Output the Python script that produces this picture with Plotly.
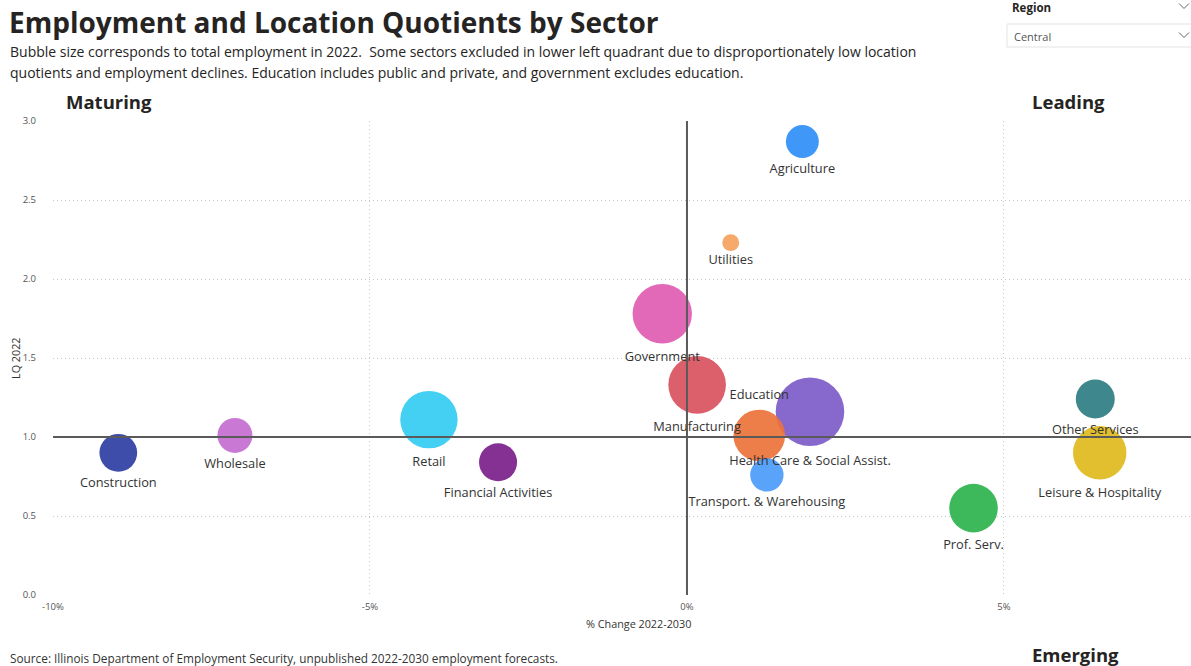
import plotly.graph_objects as go

# ---- data ----
sectors = ["Construction", "Wholesale", "Retail", "Financial Activities", "Government",
           "Manufacturing", "Utilities", "Agriculture", "Health Care & Social Assist.",
           "Education", "Transport. & Warehousing", "Prof. Serv.", "Other Services",
           "Leisure & Hospitality"]
pct_change = [-8.97, -7.13, -4.07, -2.98, -0.39, 0.16, 0.69, 1.82, 1.94, 1.14, 1.26, 4.52, 6.44, 6.51]
lq_2022 = [0.90, 1.01, 1.11, 0.84, 1.78, 1.33, 2.23, 2.87, 1.16, 1.01, 0.76, 0.55, 1.24, 0.90]
employment = [21400, 18400, 49400, 21700, 52900, 49800, 4300, 16300, 70600, 39900, 16700, 35400, 22800, 42800]
colors = ["#2E3DA3", "#C46ECF", "#33CCF2", "#7A1F8A", "#E05BB2", "#D9535F", "#F5A25E",
          "#2F8FF7", "#7D5CC9", "#EC7239", "#4C9BFA", "#2DB24C", "#2E7D82", "#E0BA1C"]
label_pos = ["bottom center"] * 9 + ["top center"] + ["bottom center"] * 4

x_ticks = [-10, -5, 0, 5]
x_tick_labels = ["-10%", "-5%", "0%", "5%"]
y_ticks = [0.0, 0.5, 1.0, 1.5, 2.0, 2.5, 3.0]
y_tick_labels = ["0.0", "0.5", "1.0", "1.5", "2.0", "2.5", "3.0"]

FONT = "Open Sans"
W, H = 1191, 666
L, R, T, B = 53, 0, 121, 71
PW, PH = W - L - R, H - T - B


def px(xpx):
    return (xpx - L) / PW


def py(ypx):
    return (H - B - ypx) / PH


max_d = 68.6
sizeref = 2 * max(employment) / max_d ** 2

fig = go.Figure()
fig.add_trace(go.Scatter(
    x=pct_change, y=lq_2022, mode="markers+text",
    text=sectors, textposition=label_pos,
    textfont=dict(family=FONT, size=12.8, color="#333"),
    marker=dict(size=employment, sizemode="area", sizeref=sizeref,
                color=colors, opacity=0.92, line=dict(width=0)),
    hoverinfo="text", showlegend=False, cliponaxis=False,
))

fig.update_layout(
    width=W, height=H, autosize=False,
    margin=dict(l=L, r=R, t=T, b=B, pad=0),
    paper_bgcolor="white", plot_bgcolor="white",
    font=dict(family=FONT, color="#333"),
    xaxis=dict(range=[-10, 7.95], tickvals=x_ticks, ticktext=x_tick_labels,
               showgrid=True, gridcolor="#c8c8c8", griddash="1px,3px", gridwidth=1,
               zeroline=False, showline=False, ticks="", ticklabelstandoff=4,
               tickfont=dict(family=FONT, size=9.5, color="#555"), fixedrange=True),
    yaxis=dict(range=[0, 3], tickvals=y_ticks, ticktext=y_tick_labels,
               showgrid=True, gridcolor="#c8c8c8", griddash="1px,3px", gridwidth=1,
               zeroline=False, showline=False, ticks="", ticklabelstandoff=16,
               tickfont=dict(family=FONT, size=9.5, color="#555"), fixedrange=True),
)

# quadrant lines
fig.add_shape(type="line", xref="x", yref="paper", x0=0, x1=0, y0=0, y1=1,
              line=dict(color="#5a5a5a", width=2), layer="above")
fig.add_shape(type="line", xref="paper", yref="y", x0=0, x1=1, y0=1, y1=1,
              line=dict(color="#5a5a5a", width=2), layer="above")

ann = []
ann.append(dict(text="<b>Employment and Location Quotients by Sector</b>", x=px(7), y=py(22),
                xanchor="left", yanchor="middle", font=dict(size=28, color="#252423")))
ann.append(dict(text="Bubble size corresponds to total employment in 2022.  Some sectors excluded in lower left quadrant due to disproportionately low location",
                x=px(8), y=py(52), xanchor="left", yanchor="middle", align="left",
                font=dict(size=14, color="#252423")))
ann.append(dict(text="quotients and employment declines. Education includes public and private, and government excludes education.",
                x=px(8), y=py(73), xanchor="left", yanchor="middle", align="left",
                font=dict(size=14, color="#252423")))
ann.append(dict(text="<b>Maturing</b>", x=px(64), y=py(101), xanchor="left", yanchor="middle",
                font=dict(size=18.5, color="#252423")))
ann.append(dict(text="<b>Leading</b>", x=px(1030), y=py(101), xanchor="left", yanchor="middle",
                font=dict(size=18.5, color="#252423")))
ann.append(dict(text="<b>Emerging</b>", x=px(1030), y=py(654), xanchor="left", yanchor="middle",
                font=dict(size=18.5, color="#252423")))
ann.append(dict(text="% Change 2022-2030", x=px(638), y=py(623), xanchor="center", yanchor="middle",
                font=dict(size=10.8, color="#333")))
ann.append(dict(text="LQ 2022", x=px(15), y=py(358), xanchor="center", yanchor="middle",
                textangle=-90, font=dict(size=10.8, color="#333")))
ann.append(dict(text="Source: Illinois Department of Employment Security, unpublished 2022-2030 employment forecasts.",
                x=px(8), y=py(658), xanchor="left", yanchor="middle",
                font=dict(size=11.8, color="#333")))
ann.append(dict(text="<b>Region</b>", x=px(1010), y=py(8), xanchor="left", yanchor="middle",
                font=dict(size=11.5, color="#252423")))
ann.append(dict(text="Central", x=px(1012), y=py(36), xanchor="left", yanchor="middle",
                font=dict(size=11, color="#555")))
for a in ann:
    a.update(xref="paper", yref="paper", showarrow=False)
    fig.add_annotation(**a)

# slicer box + chevrons
fig.add_shape(type="rect", xref="paper", yref="paper", x0=px(1007), x1=px(1192), y0=py(24), y1=py(47),
              line=dict(color="#e3e3e3", width=1), fillcolor="rgba(0,0,0,0)", layer="above")
for cy in (6, 35):
    cx = 1184
    fig.add_shape(type="path", xref="paper", yref="paper",
                  path=f"M {px(cx-5)} {py(cy-2.5)} L {px(cx)} {py(cy+2.5)} L {px(cx+5)} {py(cy-2.5)}",
                  line=dict(color="#666", width=1), layer="above")

fig.write_html("out.html", config={"displayModeBar": False},
               post_script="document.body.style.margin='0';")
